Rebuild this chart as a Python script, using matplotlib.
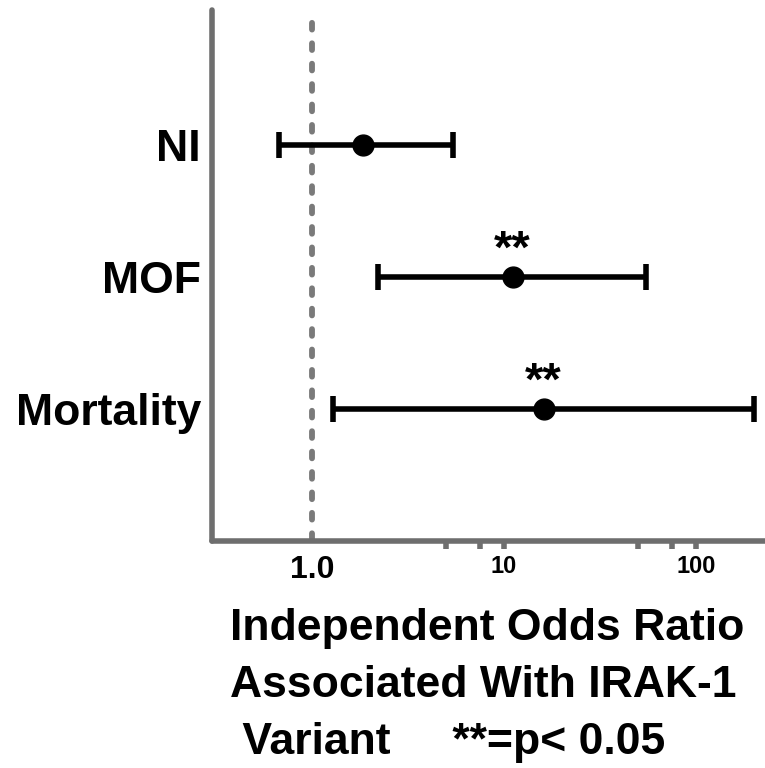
import numpy as np
import matplotlib.pyplot as plt

plt.rcParams['font.family'] = ['Liberation Sans', 'DejaVu Sans']

# Data (odds ratios with 95% CI)
outcomes = ['NI', 'MOF', 'Mortality']
odds_ratio = [1.84, 11.1, 16.1]
ci_low = [0.67, 2.2, 1.29]
ci_high = [5.4, 55.0, 200.0]
significant = [False, True, True]

gray = '#6e6e6e'

fig = plt.figure(figsize=(7.65, 7.68), dpi=100)
ax = fig.add_axes([212 / 765, 1 - 541 / 768, 1 - 212 / 765, (541 - 10) / 768])

ypos = np.arange(1, len(outcomes) + 1)
orr = np.array(odds_ratio)
err = [orr - np.array(ci_low), np.array(ci_high) - orr]

# Reference line at OR = 1
ax.plot([1, 1], [3.99, -0.01], color='#7a7a7a', lw=4.2, dashes=(1.15, 2.35),
        dash_capstyle='round', solid_capstyle='round', zorder=1, clip_on=False)

ax.errorbar(orr, ypos, xerr=err, fmt='o', color='black', ms=15,
            elinewidth=4.0, capsize=9.4, capthick=4.0, zorder=3)

for y, x, sig in zip(ypos, orr, significant):
    if sig:
        ax.text(x, y - 0.2, '**', ha='center', va='center', fontsize=34,
                fontweight='bold')

ax.set_xscale('log')
ax.set_xlim(10 ** (-100 / 192), 10 ** (453 / 192))
ax.set_ylim(4.0, -0.02)

ax.set_yticks(ypos)
ax.set_yticklabels(outcomes, fontsize=32, fontweight='bold')
ax.tick_params(axis='y', length=0, pad=8)

ax.set_xticks([1, 10, 100])
ax.set_xticklabels(['1.0', '10', '100'], fontsize=17, fontweight='bold')
ax.set_xticks([5, 7.5, 50, 75], minor=True)
ax.xaxis.set_minor_formatter(plt.NullFormatter())
ax.tick_params(axis='x', which='both', length=6, width=4, color=gray,
               direction='out', pad=4)
ax.get_xticklabels()[0].set_fontsize(23)
ax.xaxis.get_major_ticks()[0].tick1line.set_visible(False)

for s in ['top', 'right']:
    ax.spines[s].set_visible(False)
for s in ['left', 'bottom']:
    ax.spines[s].set_color(gray)
    ax.spines[s].set_linewidth(4)
    ax.spines[s].set_capstyle('round')

fig.text(230 / 765, 1 - 608 / 768,
         'Independent Odds Ratio\nAssociated With IRAK-1\n Variant     **=p< 0.05',
         ha='left', va='top', fontsize=32, fontweight='bold', linespacing=1.5)

fig.savefig('out.png', dpi=100)
